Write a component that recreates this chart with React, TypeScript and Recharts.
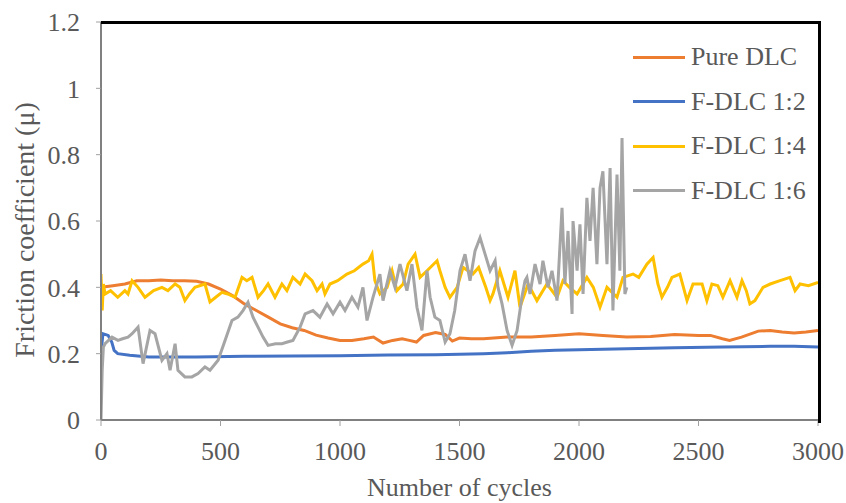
import React from "react";
import { LineChart, Line, XAxis, YAxis, Label } from "recharts";

const seriesNames = ["Pure DLC", "F-DLC 1:2", "F-DLC 1:4", "F-DLC 1:6"];
const seriesColors = ["#ED7D31", "#4472C4", "#FFC000", "#A5A5A5"];

const xTicks = [0, 500, 1000, 1500, 2000, 2500, 3000];
const yTicks = [0, 0.2, 0.4, 0.6, 0.8, 1, 1.2];

const pureCycles = [0, 50, 100, 150, 200, 250, 300, 350, 400, 450, 500, 550, 600, 650, 700, 750, 800, 850, 900, 950, 1000, 1050, 1100, 1140, 1180, 1220, 1260, 1290, 1320, 1350, 1400, 1440, 1470, 1500, 1550, 1600, 1700, 1800, 1900, 2000, 2100, 2200, 2300, 2400, 2500, 2550, 2600, 2630, 2680, 2750, 2800, 2850, 2900, 2950, 3000];
const pureValues = [0.40, 0.405, 0.41, 0.42, 0.42, 0.422, 0.42, 0.42, 0.418, 0.41, 0.395, 0.375, 0.35, 0.33, 0.31, 0.29, 0.278, 0.27, 0.256, 0.247, 0.24, 0.24, 0.245, 0.25, 0.232, 0.24, 0.245, 0.24, 0.235, 0.255, 0.264, 0.258, 0.238, 0.247, 0.245, 0.245, 0.25, 0.25, 0.255, 0.26, 0.255, 0.25, 0.252, 0.258, 0.255, 0.255, 0.245, 0.24, 0.25, 0.268, 0.27, 0.265, 0.262, 0.265, 0.27];

const blueCycles = [0, 8, 30, 45, 55, 70, 120, 200, 400, 600, 800, 1000, 1200, 1400, 1600, 1700, 1800, 1900, 2000, 2200, 2400, 2600, 2800, 2900, 3000];
const blueValues = [0.20, 0.26, 0.255, 0.235, 0.21, 0.2, 0.195, 0.19, 0.19, 0.192, 0.193, 0.194, 0.196, 0.197, 0.2, 0.203, 0.207, 0.21, 0.212, 0.215, 0.218, 0.22, 0.222, 0.222, 0.22];

const yellowCycles = [0, 5, 10, 17, 40, 70, 100, 113, 130, 155, 184, 220, 255, 280, 310, 330, 351, 370, 393, 435, 456, 480, 506, 530, 561, 590, 610, 632, 657, 680, 699, 728, 757, 778, 803, 833, 854, 883, 904, 925, 937, 958, 990, 1029, 1060, 1096, 1120, 1134, 1146, 1167, 1197, 1218, 1238, 1264, 1285, 1314, 1335, 1364, 1406, 1418, 1440, 1460, 1490, 1515, 1556, 1580, 1610, 1628, 1640, 1669, 1703, 1732, 1753, 1787, 1824, 1866, 1908, 1933, 1960, 1992, 2033, 2060, 2088, 2117, 2159, 2184, 2226, 2250, 2284, 2310, 2330, 2347, 2370, 2389, 2422, 2452, 2477, 2515, 2535, 2556, 2581, 2602, 2632, 2661, 2682, 2700, 2715, 2736, 2770, 2800, 2841, 2883, 2904, 2925, 2960, 3000];
const yellowValues = [0.44, 0.33, 0.41, 0.38, 0.39, 0.37, 0.39, 0.38, 0.42, 0.40, 0.37, 0.39, 0.40, 0.39, 0.41, 0.40, 0.36, 0.38, 0.40, 0.41, 0.356, 0.37, 0.385, 0.38, 0.37, 0.43, 0.42, 0.43, 0.37, 0.39, 0.41, 0.37, 0.41, 0.39, 0.43, 0.41, 0.44, 0.42, 0.39, 0.41, 0.38, 0.41, 0.42, 0.44, 0.45, 0.47, 0.48, 0.50, 0.42, 0.38, 0.40, 0.45, 0.39, 0.41, 0.47, 0.50, 0.43, 0.45, 0.48, 0.45, 0.40, 0.37, 0.40, 0.46, 0.44, 0.46, 0.40, 0.36, 0.38, 0.45, 0.37, 0.45, 0.34, 0.41, 0.36, 0.41, 0.37, 0.42, 0.40, 0.38, 0.43, 0.40, 0.34, 0.40, 0.37, 0.43, 0.44, 0.43, 0.47, 0.49, 0.41, 0.37, 0.40, 0.43, 0.44, 0.36, 0.41, 0.41, 0.36, 0.41, 0.405, 0.37, 0.42, 0.37, 0.42, 0.39, 0.35, 0.36, 0.40, 0.41, 0.42, 0.43, 0.39, 0.41, 0.405, 0.415];

const grayCycles = [0, 5, 10, 17, 46, 71, 90, 113, 130, 155, 176, 205, 226, 255, 276, 289, 310, 322, 351, 380, 406, 435, 456, 490, 519, 548, 573, 594, 615, 636, 657, 678, 699, 730, 757, 780, 803, 833, 854, 887, 916, 946, 971, 1000, 1021, 1050, 1075, 1096, 1113, 1138, 1167, 1180, 1209, 1230, 1251, 1280, 1301, 1322, 1343, 1364, 1377, 1397, 1418, 1440, 1460, 1480, 1502, 1523, 1544, 1565, 1586, 1607, 1628, 1649, 1661, 1678, 1699, 1720, 1741, 1761, 1774, 1782, 1795, 1816, 1837, 1849, 1870, 1887, 1908, 1929, 1941, 1954, 1971, 1975, 1992, 2004, 2017, 2033, 2046, 2059, 2075, 2088, 2100, 2117, 2130, 2142, 2159, 2171, 2180, 2192, 2200];
const grayValues = [0.0, 0.15, 0.22, 0.23, 0.25, 0.24, 0.245, 0.25, 0.26, 0.28, 0.17, 0.27, 0.26, 0.18, 0.20, 0.15, 0.23, 0.15, 0.13, 0.13, 0.14, 0.16, 0.15, 0.18, 0.24, 0.30, 0.31, 0.33, 0.355, 0.31, 0.28, 0.25, 0.225, 0.23, 0.23, 0.235, 0.24, 0.28, 0.32, 0.33, 0.31, 0.35, 0.32, 0.355, 0.33, 0.37, 0.34, 0.40, 0.30, 0.37, 0.44, 0.36, 0.45, 0.40, 0.47, 0.39, 0.47, 0.34, 0.27, 0.45, 0.37, 0.31, 0.30, 0.235, 0.26, 0.33, 0.45, 0.50, 0.42, 0.51, 0.55, 0.50, 0.45, 0.48, 0.40, 0.35, 0.27, 0.225, 0.27, 0.37, 0.42, 0.43, 0.38, 0.47, 0.41, 0.48, 0.40, 0.45, 0.36, 0.64, 0.41, 0.57, 0.32, 0.60, 0.45, 0.59, 0.38, 0.67, 0.54, 0.70, 0.47, 0.70, 0.75, 0.47, 0.76, 0.33, 0.74, 0.45, 0.85, 0.38, 0.40];

const toPoints = (xs: number[], ys: number[]) => xs.map((x, i) => ({ x, y: ys[i] }));

const seriesData = [
  toPoints(pureCycles, pureValues),
  toPoints(blueCycles, blueValues),
  toPoints(yellowCycles, yellowValues),
  toPoints(grayCycles, grayValues),
];

const FONT = "'Liberation Serif', 'Times New Roman', serif";
const TEXT = "#595959";

const LegendBox = () => (
  <div style={{ position: "absolute", left: 633, top: 35, fontFamily: FONT, fontSize: 26, color: TEXT }}>
    {seriesNames.map((n, i) => (
      <div key={n} style={{ display: "flex", alignItems: "center", height: 44.5 }}>
        <div style={{ width: 52, height: 3, background: seriesColors[i], marginRight: 6 }} />
        <span style={{ whiteSpace: "nowrap", lineHeight: "26px" }}>{n}</span>
      </div>
    ))}
  </div>
);

export default function App() {
  return (
    <div style={{ position: "absolute", left: 0, top: 0, width: 846, height: 503, background: "#fff" }}>
      <LineChart width={846} height={503} margin={{ top: 22, right: 28, bottom: 3, left: 41 }}>
        <XAxis
          type="number"
          dataKey="x"
          domain={[0, 3000]}
          ticks={xTicks}
          allowDataOverflow
          height={80}
          tickSize={6}
          tickMargin={16}
          stroke="#808080"
          strokeWidth={2}
          tick={{ fill: TEXT, fontSize: 26, fontFamily: FONT }}
          tickLine={{ stroke: "#a0a0a0", strokeWidth: 1 }}
        >
          <Label
            value="Number of cycles"
            position="insideBottom"
            offset={4}
            style={{ fill: TEXT, fontSize: 26, fontFamily: FONT }}
          />
        </XAxis>
        <YAxis
          type="number"
          domain={[0, 1.2]}
          ticks={yTicks}
          allowDataOverflow
          width={60}
          tickSize={5}
          tickMargin={16}
          stroke="#808080"
          strokeWidth={2}
          tick={{ fill: TEXT, fontSize: 26, fontFamily: FONT }}
          tickLine={{ stroke: "#a0a0a0", strokeWidth: 1 }}
        >
          <Label
            content={() => (
              <text
                x={24}
                y={230}
                transform="rotate(-90 24 230)"
                textAnchor="middle"
                dominantBaseline="central"
                style={{ fill: TEXT, fontSize: 28, fontFamily: FONT }}
              >
                Friction coefficient (μ)
              </text>
            )}
          />
        </YAxis>
        {seriesData.map((d, i) => (
          <Line
            key={seriesNames[i]}
            data={d}
            dataKey="y"
            name={seriesNames[i]}
            type="linear"
            stroke={seriesColors[i]}
            strokeWidth={3}
            dot={false}
            activeDot={false}
            isAnimationActive={false}
          />
        ))}
      </LineChart>
      <div
        style={{
          position: "absolute",
          left: 101,
          top: 20.5,
          width: 717,
          height: 399,
          borderTop: "3px solid #000",
          borderRight: "3px solid #000",
          boxSizing: "content-box",
          pointerEvents: "none",
        }}
      />
      <LegendBox />
    </div>
  );
}
